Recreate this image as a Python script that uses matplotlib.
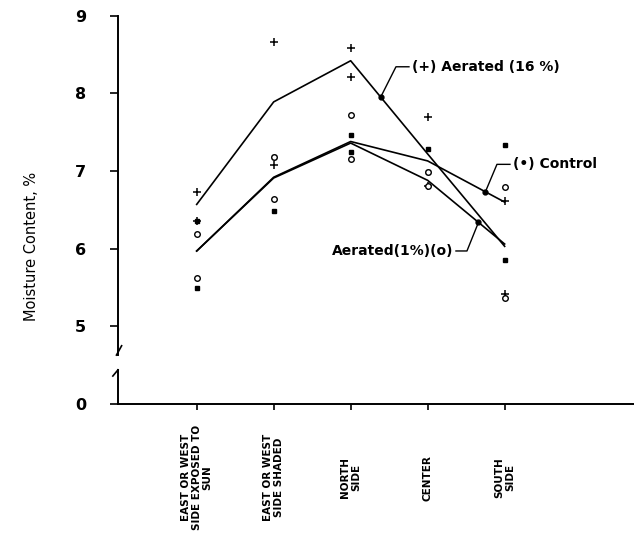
import numpy as np
import matplotlib
matplotlib.use('Agg')
import matplotlib.pyplot as plt

plt.rcParams['font.family'] = ['DejaVu Sans']

# 数据：五个取样位置，每种处理两个重复
categories = ['EAST OR WEST\nSIDE EXPOSED TO\nSUN', 'EAST OR WEST\nSIDE SHADED',
              'NORTH\nSIDE', 'CENTER', 'SOUTH\nSIDE']
aer16_pts = [[6.73, 6.35], [8.66, 7.08], [8.58, 8.21], [7.69, 6.81], [6.61, 5.42]]
control_pts = [[6.35, 5.49], [7.18, 6.48], [7.47, 7.24], [7.28, 6.99], [7.34, 5.86]]
aer1_pts = [[6.19, 5.62], [7.18, 6.64], [7.72, 7.15], [6.99, 6.81], [6.79, 5.37]]
aer16_line = [6.57, 7.89, 8.42, 7.22, 6.03]
control_line = [5.97, 6.92, 7.38, 7.13, 6.60]
aer1_line = [5.97, 6.91, 7.36, 6.88, 6.06]
ytick_vals = [4, 5, 6, 7, 8, 9]
ytick_labels = ['0', '5', '6', '7', '8', '9']

W, H = 634, 537
fig = plt.figure(figsize=(W / 100, H / 100), dpi=100)
ax = fig.add_axes([118 / W, 133 / H, (W - 118) / W, 388.3 / H])

x = np.arange(len(categories))
ax.set_xlim(-1.022, 5.68)
ax.set_ylim(4.0, 9.0)

# 折线
for line in [aer16_line, control_line, aer1_line]:
    ax.plot(x, line, color='black', lw=1.2, zorder=2)

# 散点
def scatter(pts, marker, **kw):
    pts = np.array(pts)
    for j in range(pts.shape[1]):
        ax.plot(x, pts[:, j], ls='none', marker=marker, color='black',
                clip_on=False, zorder=3, **kw)

scatter(aer16_pts, '+', ms=6, mew=1.1)
scatter(control_pts, 's', ms=3.2)
scatter(aer1_pts, 'o', ms=4, mfc='white', mew=1.0)

# 坐标轴样式
for s in ['top', 'right', 'left']:
    ax.spines[s].set_visible(False)
ax.spines['bottom'].set_linewidth(1.4)
ax.set_yticks(ytick_vals)
ax.set_yticklabels(ytick_labels, fontsize=11.5, fontweight='bold')
ax.tick_params(axis='y', direction='out', length=6, width=1.2, pad=17)
ax.set_xticks(x)
ax.set_xticklabels([])
ax.tick_params(axis='x', direction='out', length=4.5, width=1.2)

# 断开的纵轴
ytr = ax.get_yaxis_transform()
ax.plot([0, 0], [4.63, 9.0], color='black', lw=1.4, transform=ytr, clip_on=False)
ax.plot([-0.003, 0.007], [4.63, 4.75], color='black', lw=1.2, transform=ytr, clip_on=False)
ax.plot([0, 0], [4.0, 4.44], color='black', lw=1.4, transform=ytr, clip_on=False)
ax.plot([0, -0.01], [4.44, 4.36], color='black', lw=1.2, transform=ytr, clip_on=False)

# 分类标签
xtr = ax.get_xaxis_transform()
for xi, lab in zip(x, categories):
    ax.text(xi, -0.19, lab, rotation=90, ha='center', va='center',
            multialignment='center', fontsize=7.5, fontweight='bold',
            linespacing=1.1, transform=xtr)

fig.text(32 / W, 1 - 246 / H, 'Moisture Content, %', rotation=90,
         ha='center', va='center', fontsize=10.5)

# 像素转数据坐标（用于标注位置）
def px2x(px):
    return (px - 196.7) / 77

def py2y(py):
    return 9 - (py - 15.7) / 78

def on_line(line, xf):
    return np.interp(xf, x, line)

def label(line, xf, corner, end, text, ha):
    yd = on_line(line, xf)
    ax.plot([xf, px2x(corner[0]), px2x(end[0])],
            [yd, py2y(corner[1]), py2y(end[1])], color='black', lw=1.0, zorder=4)
    ax.plot(xf, yd, marker='o', ms=3.5, color='black', zorder=4)
    tx = end[0] + (3 if ha == 'left' else -3)
    ax.text(px2x(tx), py2y(end[1]), text, ha=ha, va='center',
            fontsize=10, fontweight='bold')

label(aer16_line, 2.39, (396, 67), (409, 67), '(+) Aerated (16 %)', 'left')
label(control_line, 3.75, (497, 165), (510, 165), '(•) Control', 'left')
label(aer1_line, 3.66, (467, 252), (456, 252), 'Aerated(1%)(o)', 'right')

fig.savefig('out.png', dpi=100)
